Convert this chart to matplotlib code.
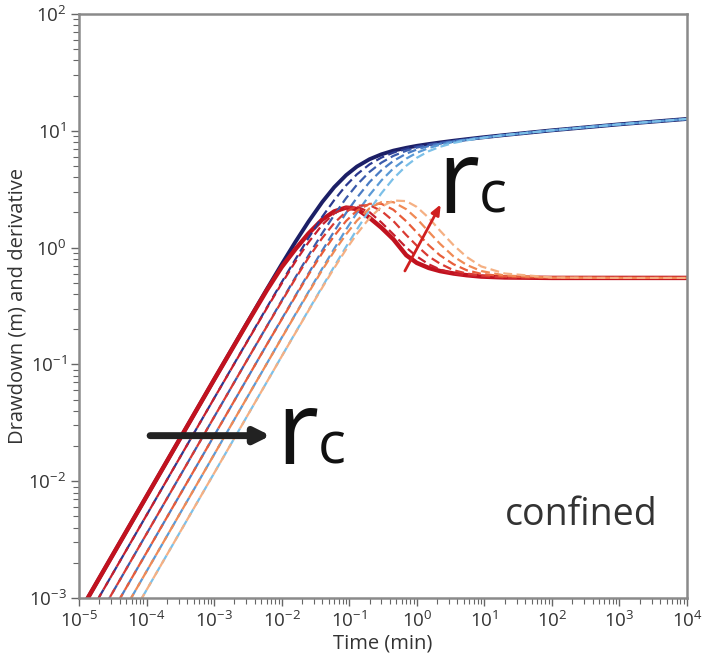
import matplotlib
matplotlib.use('Agg')
import matplotlib.pyplot as plt
from matplotlib.ticker import LogLocator, NullFormatter

plt.rcParams['font.family'] = ['Open Sans', 'DejaVu Sans']
plt.rcParams['mathtext.fontset'] = 'custom'
plt.rcParams['mathtext.rm'] = 'Open Sans'
plt.rcParams['mathtext.it'] = 'Open Sans'

# time (min)
t = [1e-5, 1e-4, 1e-3, 3e-3, 6e-3, 0.01, 0.016, 0.025, 0.04, 0.06, 0.09, 0.13, 0.2,
     0.3, 0.45, 0.7, 1.0, 1.5, 2.2, 3.5, 5.5, 9, 20, 100, 1000, 1e4]

# drawdown (m), smallest rc first
dd0 = [7.4e-4, 0.0074, 0.074, 0.221, 0.438, 0.719, 1.12, 1.67, 2.46, 3.29, 4.17, 4.94, 5.71,
       6.29, 6.76, 7.15, 7.43, 7.70, 7.94, 8.22, 8.48, 8.76, 9.20, 10.09, 11.36, 12.63]
dd1 = [5.12e-4, 0.00512, 0.0512, 0.153, 0.305, 0.504, 0.794, 1.21, 1.84, 2.55, 3.41, 4.24, 5.16,
       5.90, 6.50, 7.00, 7.34, 7.65, 7.91, 8.20, 8.47, 8.75, 9.20, 10.09, 11.36, 12.63]
dd2 = [3.54e-4, 0.00354, 0.0354, 0.106, 0.211, 0.351, 0.556, 0.857, 1.33, 1.90, 2.65, 3.45, 4.45,
       5.34, 6.10, 6.75, 7.18, 7.55, 7.85, 8.17, 8.46, 8.74, 9.19, 10.09, 11.36, 12.63]
dd3 = [2.45e-4, 0.00245, 0.0245, 0.0735, 0.147, 0.244, 0.388, 0.601, 0.946, 1.38, 1.98, 2.67, 3.64,
       4.60, 5.52, 6.37, 6.91, 7.40, 7.76, 8.12, 8.42, 8.73, 9.19, 10.09, 11.36, 12.63]
dd4 = [1.69e-4, 0.00169, 0.0169, 0.0507, 0.101, 0.169, 0.269, 0.418, 0.663, 0.978, 1.43, 1.98, 2.82,
       3.76, 4.76, 5.78, 6.48, 7.11, 7.59, 8.03, 8.37, 8.70, 9.18, 10.09, 11.36, 12.63]
dd5 = [1.17e-4, 0.00117, 0.0117, 0.0351, 0.0702, 0.117, 0.187, 0.291, 0.463, 0.688, 1.016, 1.43, 2.10,
       2.92, 3.90, 5.02, 5.87, 6.68, 7.29, 7.87, 8.29, 8.66, 9.19, 10.09, 11.36, 12.63]

# derivative
dv0 = [7.4e-4, 0.0074, 0.074, 0.219, 0.429, 0.68, 0.97, 1.32, 1.74, 2.04, 2.20, 2.14, 1.80,
       1.48, 1.18, 0.86, 0.74, 0.67, 0.63, 0.60, 0.58, 0.565, 0.555, 0.55, 0.55, 0.55]
dv1 = [5.12e-4, 0.00512, 0.0512, 0.152, 0.301, 0.492, 0.76, 1.11, 1.57, 1.96, 2.22, 2.24, 2.01,
       1.64, 1.30, 1.00, 0.84, 0.72, 0.65, 0.60, 0.578, 0.566, 0.553, 0.55, 0.55, 0.55]
dv2 = [3.54e-4, 0.00354, 0.0354, 0.106, 0.21, 0.346, 0.543, 0.82, 1.21, 1.62, 2.03, 2.28, 2.31,
       2.06, 1.69, 1.28, 1.04, 0.84, 0.73, 0.64, 0.60, 0.576, 0.558, 0.551, 0.55, 0.55]
dv3 = [2.45e-4, 0.00245, 0.0245, 0.0735, 0.147, 0.242, 0.382, 0.586, 0.90, 1.26, 1.69, 2.07, 2.37,
       2.37, 2.11, 1.68, 1.35, 1.05, 0.86, 0.72, 0.64, 0.596, 0.566, 0.551, 0.55, 0.55]
dv4 = [1.69e-4, 0.00169, 0.0169, 0.0507, 0.101, 0.168, 0.267, 0.411, 0.644, 0.93, 1.30, 1.70, 2.17,
       2.45, 2.45, 2.13, 1.77, 1.37, 1.08, 0.84, 0.71, 0.63, 0.577, 0.553, 0.55, 0.55]
dv5 = [1.17e-4, 0.00117, 0.0117, 0.0351, 0.0702, 0.117, 0.186, 0.289, 0.455, 0.668, 0.965, 1.31, 1.79,
       2.24, 2.53, 2.50, 2.23, 1.80, 1.40, 1.05, 0.83, 0.69, 0.60, 0.555, 0.55, 0.55]

drawdowns = [dd0, dd1, dd2, dd3, dd4, dd5]
derivs = [dv0, dv1, dv2, dv3, dv4, dv5]

blues = ['#1c1f66', '#2b3990', '#3b5bab', '#4a7cc4', '#5b9ad6', '#7cc0e8']
reds = ['#c1121f', '#c8202d', '#d93a33', '#e85d3a', '#f08a55', '#f5b083']

fig = plt.figure(figsize=(7.07, 6.66), dpi=100)
ax = fig.add_axes([0.1117, 0.1021, 0.86, 0.8769])

# solid curves (smallest rc) underneath
ax.plot(t, dd0, color=blues[0], lw=2.8)
ax.plot(t, dv0, color=reds[0], lw=3.2)

# dashed curves (bigger rc), lightest drawn last
for i in range(1, 6):
    ax.plot(t, drawdowns[i], color=blues[i], lw=1.6, ls=(0, (4, 2)))
for i in range(1, 6):
    ax.plot(t, derivs[i], color=reds[i], lw=1.6, ls=(2, (4, 2)))

ax.set_xscale('log')
ax.set_yscale('log')
ax.set_xlim(1e-5, 1e4)
ax.set_ylim(1e-3, 1e2)
ax.xaxis.set_major_locator(LogLocator(base=10, numticks=20))
ax.xaxis.set_minor_locator(LogLocator(base=10, subs=range(2, 10), numticks=20))
ax.xaxis.set_minor_formatter(NullFormatter())
ax.yaxis.set_major_locator(LogLocator(base=10, numticks=20))
ax.yaxis.set_minor_locator(LogLocator(base=10, subs=range(2, 10), numticks=20))
ax.yaxis.set_minor_formatter(NullFormatter())

for s in ax.spines.values():
    s.set_color('#8a8a8a')
    s.set_linewidth(1.8)
ax.tick_params(which='both', colors='#666666', labelcolor='#333333', labelsize=13.5,
               top=False, right=False)
ax.tick_params(which='major', length=6, width=1, pad=3)
ax.tick_params(which='minor', length=4, width=0.8)

ax.set_xlabel('Time (min)', fontsize=14.5, color='#333333', labelpad=2)
ax.set_ylabel('Drawdown (m) and derivative', fontsize=14.5, color='#333333', labelpad=1)

# annotations
ax.annotate('', xy=(0.315, 0.278), xytext=(0.117, 0.278), xycoords='axes fraction',
            arrowprops=dict(arrowstyle='-|>,head_length=0.9,head_width=0.45',
                            color='#222222', lw=5, shrinkA=0, shrinkB=0))
ax.text(0.325, 0.230, 'r', transform=ax.transAxes, fontsize=74, color='#111111',
        ha='left', va='baseline')
ax.text(0.392, 0.230, 'c', transform=ax.transAxes, fontsize=42, color='#111111',
        ha='left', va='baseline')

ax.annotate('', xy=(0.595, 0.674), xytext=(0.536, 0.560), xycoords='axes fraction',
            arrowprops=dict(arrowstyle='-|>,head_length=0.6,head_width=0.25',
                            color='#d0201f', lw=2, shrinkA=0, shrinkB=0))
ax.text(0.590, 0.660, 'r', transform=ax.transAxes, fontsize=74, color='#111111',
        ha='left', va='baseline')
ax.text(0.657, 0.660, 'c', transform=ax.transAxes, fontsize=42, color='#111111',
        ha='left', va='baseline')

ax.text(0.826, 0.125, 'confined', transform=ax.transAxes, fontsize=27, color='#333333',
        ha='center', va='baseline')

fig.savefig('out.png', dpi=100)
